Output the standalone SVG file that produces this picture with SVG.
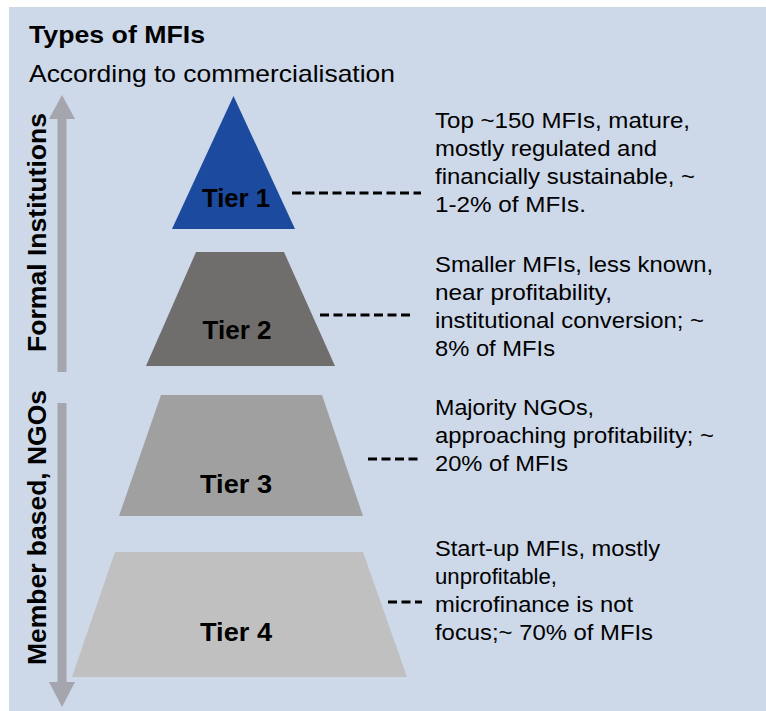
<svg xmlns="http://www.w3.org/2000/svg" width="766" height="711" viewBox="0 0 766 711">
<style>
.t{font-family:"Liberation Sans",Arial,sans-serif;fill:#000}
.b{font-weight:bold}
.desc{font-size:22.5px}
.tier{font-size:26px;font-weight:bold;text-anchor:middle}
.vert{font-size:26.5px;font-weight:bold;text-anchor:middle}
.axis{fill:#A5A5AE}
.dash{stroke:#000;stroke-width:2.8;stroke-dasharray:9 4.5;fill:none}
</style>
<rect x="9" y="7" width="757" height="704" fill="#CDD8E9"/>
<text class="t b" x="29" y="43" font-size="24" textLength="176" lengthAdjust="spacingAndGlyphs">Types of MFIs</text>
<text class="t" x="29" y="82" font-size="24" textLength="366" lengthAdjust="spacingAndGlyphs">According to commercialisation</text>

<g id="axis-formal">
<rect class="axis" x="57.5" y="118" width="9" height="254"/>
<polygon class="axis" points="49,119 75,119 62,95"/>
<text class="t vert" transform="translate(46,232.5) rotate(-90)" x="0" y="0" textLength="239" lengthAdjust="spacingAndGlyphs">Formal Institutions</text>
</g>
<g id="axis-member">
<rect class="axis" x="57.5" y="403" width="9" height="280"/>
<polygon class="axis" points="49,682 75,682 62,707"/>
<text class="t vert" transform="translate(46,527.5) rotate(-90)" x="0" y="0" textLength="275" lengthAdjust="spacingAndGlyphs">Member based, NGOs</text>
</g>

<g id="connectors">
<line class="dash" x1="292" y1="193" x2="421" y2="193"/>
<line class="dash" x1="320" y1="315" x2="414" y2="315"/>
<line class="dash" x1="368" y1="459" x2="420" y2="459"/>
<line class="dash" x1="388" y1="602" x2="422" y2="602"/>
</g>

<g id="tier1">
<polygon points="233.5,96 295,229 172,229" fill="#1B4A9E"/>
<text class="t tier" x="236" y="207" textLength="68" lengthAdjust="spacingAndGlyphs">Tier 1</text>
<text class="t desc" x="435" y="128" textLength="255" lengthAdjust="spacingAndGlyphs">Top ~150 MFIs, mature,</text>
<text class="t desc" x="435" y="156" textLength="222" lengthAdjust="spacingAndGlyphs">mostly regulated and</text>
<text class="t desc" x="435" y="184" textLength="260" lengthAdjust="spacingAndGlyphs">financially sustainable, ~</text>
<text class="t desc" x="435" y="212" textLength="151" lengthAdjust="spacingAndGlyphs">1-2% of MFIs.</text>
</g>
<g id="tier2">
<polygon points="196,252 284,252 335,366 146,366" fill="#706E6D"/>
<text class="t tier" x="237" y="339" textLength="69" lengthAdjust="spacingAndGlyphs">Tier 2</text>
<text class="t desc" x="435" y="272" textLength="278" lengthAdjust="spacingAndGlyphs">Smaller MFIs, less known,</text>
<text class="t desc" x="435" y="300" textLength="177" lengthAdjust="spacingAndGlyphs">near profitability,</text>
<text class="t desc" x="435" y="328" textLength="269" lengthAdjust="spacingAndGlyphs">institutional conversion; ~</text>
<text class="t desc" x="435" y="356" textLength="120" lengthAdjust="spacingAndGlyphs">8% of MFIs</text>
</g>
<g id="tier3">
<polygon points="161,395 322,395 363,516 119,516" fill="#A0A0A0"/>
<text class="t tier" x="236" y="493" textLength="72" lengthAdjust="spacingAndGlyphs">Tier 3</text>
<text class="t desc" x="435" y="415" textLength="159" lengthAdjust="spacingAndGlyphs">Majority NGOs,</text>
<text class="t desc" x="435" y="443" textLength="279" lengthAdjust="spacingAndGlyphs">approaching profitability; ~</text>
<text class="t desc" x="435" y="471" textLength="133" lengthAdjust="spacingAndGlyphs">20% of MFIs</text>
</g>
<g id="tier4">
<polygon points="115,552 363,552 407,677 72,677" fill="#C0C0C0"/>
<text class="t tier" x="236" y="641" textLength="72" lengthAdjust="spacingAndGlyphs">Tier 4</text>
<text class="t desc" x="435" y="556" textLength="225" lengthAdjust="spacingAndGlyphs">Start-up MFIs, mostly</text>
<text class="t desc" x="435" y="584" textLength="122" lengthAdjust="spacingAndGlyphs">unprofitable,</text>
<text class="t desc" x="435" y="612" textLength="198" lengthAdjust="spacingAndGlyphs">microfinance is not</text>
<text class="t desc" x="435" y="640" textLength="218" lengthAdjust="spacingAndGlyphs">focus;~ 70% of MFIs</text>
</g>
</svg>
